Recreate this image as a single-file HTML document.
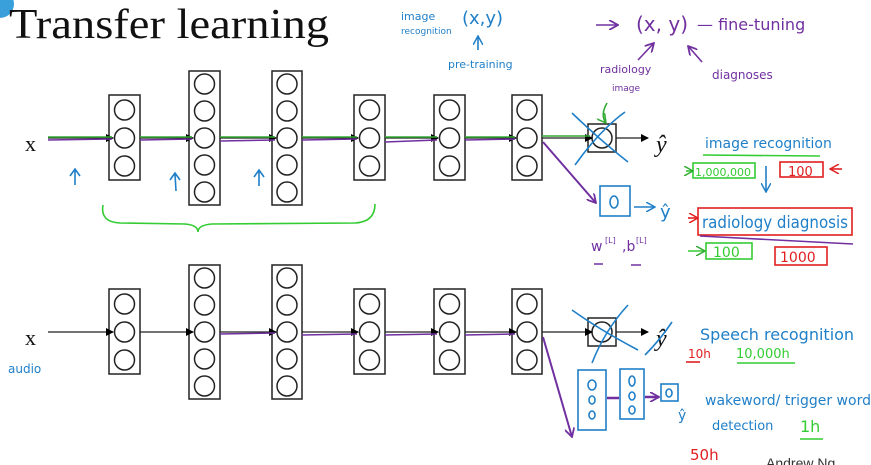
<!DOCTYPE html>
<html><head><meta charset="utf-8"><style>
html,body{margin:0;padding:0;background:#fff;width:871px;height:465px;overflow:hidden}
svg{display:block}
.h{font-family:"DejaVu Sans","Liberation Sans",sans-serif}
</style></head><body>
<svg width="871" height="465" viewBox="0 0 871 465" xmlns="http://www.w3.org/2000/svg">
<defs>
<marker id="ak" markerWidth="8" markerHeight="8" refX="7" refY="4" orient="auto" markerUnits="userSpaceOnUse"><path d="M0,0 L8,4 L0,8z" fill="#000"/></marker>
<marker id="ag" markerWidth="10" markerHeight="10" refX="9" refY="5" orient="auto" markerUnits="userSpaceOnUse"><path d="M0,0 L9,5 L0,10" fill="none" stroke="#3a3" stroke-width="1.5"/></marker>
<marker id="ap" markerWidth="10" markerHeight="10" refX="9" refY="5" orient="auto" markerUnits="userSpaceOnUse"><path d="M0,0 L9,5 L0,10" fill="none" stroke="#7030a0" stroke-width="1.8"/></marker>
<marker id="ab" markerWidth="10" markerHeight="10" refX="9" refY="5" orient="auto" markerUnits="userSpaceOnUse"><path d="M0,0 L9,5 L0,10" fill="none" stroke="#1f7fc8" stroke-width="1.5"/></marker>
<marker id="ar" markerWidth="10" markerHeight="10" refX="9" refY="5" orient="auto" markerUnits="userSpaceOnUse"><path d="M0,0 L9,5 L0,10" fill="none" stroke="#e02020" stroke-width="1.5"/></marker>
</defs>
<circle cx="0" cy="4" r="14" fill="#3aa0dc"/>
<text x="9" y="38" font-family="Liberation Serif,serif" font-size="42" fill="#111" textLength="320" lengthAdjust="spacingAndGlyphs">Transfer learning</text>

<g id="net" stroke="#222" stroke-width="1.5" fill="none">
 <rect x="109" y="95" width="31" height="85" fill="#fff"/>
 <circle cx="124.5" cy="110" r="10"/><circle cx="124.5" cy="138" r="10"/><circle cx="124.5" cy="166" r="10"/>
 <rect x="189" y="71" width="31" height="134" fill="#fff"/>
 <circle cx="204.5" cy="84" r="10"/><circle cx="204.5" cy="111" r="10"/><circle cx="204.5" cy="138" r="10"/><circle cx="204.5" cy="165" r="10"/><circle cx="204.5" cy="192" r="10"/>
 <rect x="272" y="71" width="30" height="134" fill="#fff"/>
 <circle cx="287" cy="84" r="10"/><circle cx="287" cy="111" r="10"/><circle cx="287" cy="138" r="10"/><circle cx="287" cy="165" r="10"/><circle cx="287" cy="192" r="10"/>
 <rect x="354" y="95" width="31" height="85" fill="#fff"/>
 <circle cx="369.5" cy="110" r="10"/><circle cx="369.5" cy="138" r="10"/><circle cx="369.5" cy="166" r="10"/>
 <rect x="434" y="95" width="31" height="85" fill="#fff"/>
 <circle cx="449.5" cy="110" r="10"/><circle cx="449.5" cy="138" r="10"/><circle cx="449.5" cy="166" r="10"/>
 <rect x="512" y="95" width="30" height="85" fill="#fff"/>
 <circle cx="527" cy="110" r="10"/><circle cx="527" cy="138" r="10"/><circle cx="527" cy="166" r="10"/>
 <rect x="588" y="124" width="28" height="28" fill="#fff"/>
 <circle cx="602" cy="138" r="10"/>
 <g stroke-width="1.2">
  <line x1="48" y1="138" x2="113" y2="138" marker-end="url(#ak)"/>
  <line x1="140" y1="138" x2="193" y2="138" marker-end="url(#ak)"/>
  <line x1="220" y1="138" x2="276" y2="138" marker-end="url(#ak)"/>
  <line x1="302" y1="138" x2="358" y2="138" marker-end="url(#ak)"/>
  <line x1="385" y1="138" x2="438" y2="138" marker-end="url(#ak)"/>
  <line x1="465" y1="138" x2="516" y2="138" marker-end="url(#ak)"/>
  <line x1="542" y1="138" x2="592" y2="138" marker-end="url(#ak)"/>
  <line x1="616" y1="138" x2="648" y2="138" marker-end="url(#ak)"/>
 </g>
</g>
<use href="#net" transform="translate(0,194)"/>
<text x="25" y="151" font-family="Liberation Serif,serif" font-size="22" fill="#111">x</text>
<text x="25" y="345" font-family="Liberation Serif,serif" font-size="22" fill="#111">x</text>
<text x="656" y="152" font-family="Liberation Serif,serif" font-style="italic" font-size="24" fill="#111">ŷ</text>
<text x="656" y="346" font-family="Liberation Serif,serif" font-style="italic" font-size="24" fill="#111">ŷ</text>

<g fill="none" stroke-width="1.6">
 <path d="M48,137 L112,137 M140,137 L192,137 M220,137 L275,137 M302,137 L357,137 M385,137 L437,137 M465,137 L515,137 M542,136 L590,136" stroke="#3a3" />
 <path d="M48,140 L112,139 M140,140 L192,139 M220,141 L275,140 M302,140 L357,139 M385,142 L437,140 M465,140 L515,139" stroke="#7030a0"/>
 <path d="M543,142 L596,203" stroke="#7030a0" stroke-width="2" marker-end="url(#ap)"/>
 <path d="M572,113 Q600,140 628,162 M575,165 Q600,130 625,112" stroke="#1f7fc8"/>
 <path d="M607,103 Q600,115 606,123" stroke="#3a3" marker-end="url(#ag)"/>
 <path d="M75,185 L75,170 M70,176 L75,169 L80,176" stroke="#1f7fc8"/>
 <path d="M176,191 L175,174 M170,180 L175,173 L180,180" stroke="#1f7fc8"/>
 <path d="M259,186 L259,171 M254,177 L259,170 L264,177" stroke="#1f7fc8"/>
 <path d="M103,205 Q100,222 120,223 L185,224 Q198,225 198,232 Q198,225 212,224 L355,223 Q375,222 375,204" stroke="#3c3"/>
 <rect x="600" y="186" width="30" height="30" stroke="#1f7fc8"/>
 <ellipse cx="614" cy="202" rx="4" ry="6" stroke="#1f7fc8"/>
 <path d="M634,207 L655,207" stroke="#1f7fc8" marker-end="url(#ab)"/>
 <path d="M703,155 L820,156" stroke="#3c3"/>
 <rect x="693" y="163" width="62" height="15" stroke="#3c3"/>
 <rect x="780" y="162" width="43" height="15" stroke="#e02020"/>
 <path d="M686,171 L693,171" stroke="#3c3" marker-end="url(#ag)"/>
 <path d="M842,169 L830,169" stroke="#e02020" marker-end="url(#ar)"/>
 <path d="M766,166 L766,192" stroke="#1f7fc8" marker-end="url(#ab)"/>
 <rect x="698" y="208" width="154" height="27" stroke="#e02020"/>
 <path d="M688,218 L698,218" stroke="#e02020" marker-end="url(#ar)"/>
 <path d="M700,236 L853,244" stroke="#7030a0"/>
 <rect x="706" y="243" width="46" height="16" stroke="#3c3"/>
 <path d="M688,251 L705,251" stroke="#3c3" marker-end="url(#ag)"/>
 <rect x="775" y="247" width="52" height="18" stroke="#e02020"/>
 <path d="M594,264 L603,264 M631,265 L641,265" stroke="#7030a0"/>
 <path d="M478,50 L478,36" stroke="#1f7fc8" marker-end="url(#ab)"/>
 <path d="M596,25 L618,25" stroke="#7030a0" marker-end="url(#ap)"/>
 <path d="M638,60 L654,43" stroke="#7030a0" marker-end="url(#ap)"/>
 <path d="M702,62 L688,46" stroke="#7030a0" marker-end="url(#ap)"/>
</g>
<g class="h" font-size="11">
 <text x="401" y="20" fill="#1f7fc8" font-size="11">image</text>
 <text x="401" y="34" fill="#1f7fc8" font-size="9">recognition</text>
 <text x="462" y="24" fill="#1f7fc8" font-size="18">(x,y)</text>
 <text x="448" y="68" fill="#1f7fc8" font-size="11">pre-training</text>
 <text x="636" y="31" fill="#7030a0" font-size="20">(x, y)</text>
 <text x="697" y="30" fill="#7030a0" font-size="16">— fine-tuning</text>
 <text x="600" y="73" fill="#7030a0" font-size="11">radiology</text>
 <text x="612" y="91" fill="#7030a0" font-size="9">image</text>
 <text x="712" y="79" fill="#7030a0" font-size="12">diagnoses</text>
 <text x="705" y="148" fill="#1f7fc8" font-size="14">image recognition</text>
 <text x="695" y="176" fill="#3c3" font-size="11">1,000,000</text>
 <text x="788" y="176" fill="#e02020" font-size="13">100</text>
 <text x="702" y="228" fill="#1f7fc8" font-size="17" textLength="146" lengthAdjust="spacingAndGlyphs">radiology diagnosis</text>
 <text x="713" y="257" fill="#3c3" font-size="14">100</text>
 <text x="780" y="262" fill="#e02020" font-size="14">1000</text>
 <text x="660" y="218" fill="#1f7fc8" font-size="18">ŷ</text>
 <text x="591" y="251" fill="#7030a0" font-size="14">w</text>
 <text x="605" y="243" fill="#7030a0" font-size="8">[L]</text>
 <text x="622" y="251" fill="#7030a0" font-size="14">,b</text>
 <text x="636" y="243" fill="#7030a0" font-size="8">[L]</text>
 <text x="8" y="373" fill="#1f7fc8" font-size="12">audio</text>
 <text x="700" y="340" fill="#1f7fc8" font-size="16">Speech recognition</text>
 <text x="688" y="358" fill="#e02020" font-size="12">10h</text>
 <text x="736" y="358" fill="#3c3" font-size="13">10,000h</text>
 <text x="705" y="405" fill="#1f7fc8" font-size="14">wakeword/ trigger word</text>
 <text x="712" y="430" fill="#1f7fc8" font-size="13">detection</text>
 <text x="800" y="432" fill="#3c3" font-size="16">1h</text>
 <text x="690" y="460" fill="#e02020" font-size="15">50h</text>
 <text x="766" y="468" fill="#333" font-family="Liberation Sans,sans-serif" font-size="14">Andrew Ng</text>
 <text x="678" y="420" fill="#1f7fc8" font-size="14">ŷ</text>
</g>
<g fill="none" stroke-width="1.6">
 <path d="M220,334 L275,333 M302,335 L357,334 M385,335 L437,334 M465,335 L515,334" stroke="#7030a0"/>
 <path d="M543,337 L572,437" stroke="#7030a0" stroke-width="2" marker-end="url(#ap)"/>
 <path d="M572,310 Q600,330 638,350 M592,363 Q605,330 628,305 M645,355 Q660,340 672,322" stroke="#1f7fc8"/>
 <rect x="578" y="370" width="28" height="60" stroke="#1f7fc8"/>
 <ellipse cx="592" cy="385" rx="4" ry="5" stroke="#1f7fc8"/><ellipse cx="592" cy="400" rx="3" ry="4" stroke="#1f7fc8"/><ellipse cx="592" cy="415" rx="3" ry="4" stroke="#1f7fc8"/>
 <rect x="620" y="369" width="24" height="50" stroke="#1f7fc8"/>
 <ellipse cx="632" cy="381" rx="3" ry="5" stroke="#1f7fc8"/><ellipse cx="632" cy="396" rx="3" ry="4" stroke="#1f7fc8"/><ellipse cx="632" cy="410" rx="3" ry="4" stroke="#1f7fc8"/>
 <rect x="661" y="384" width="17" height="17" stroke="#1f7fc8"/>
 <ellipse cx="669" cy="393" rx="3" ry="4" stroke="#1f7fc8"/>
 <path d="M607,398 L619,398 M645,397 L659,397" stroke="#7030a0" stroke-width="2.5" marker-end="url(#ap)"/>
 <path d="M686,362 L700,362" stroke="#e02020"/>
 <path d="M737,363 L795,363" stroke="#3c3"/>
 <path d="M800,439 L823,439" stroke="#3c3"/>
</g>
</svg>
</body></html>
